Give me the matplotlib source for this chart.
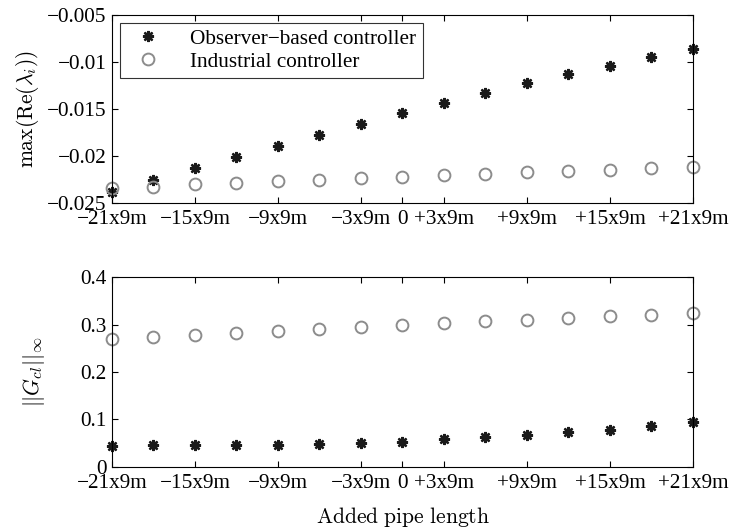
import matplotlib
matplotlib.use('Agg')
import matplotlib.pyplot as plt

# added pipe length in units of 9 m
x_vals = [-21, -18, -15, -12, -9, -6, -3, 0, 3, 6, 9, 12, 15, 18, 21]

# max(Re(lambda_i))
eig_observer = [-0.0238, -0.02255, -0.0213, -0.0201, -0.0189, -0.01773, -0.0166, -0.01546,
                -0.01439, -0.01333, -0.01227, -0.01131, -0.0104, -0.0095, -0.00862]
eig_industrial = [-0.02337, -0.02327, -0.02298, -0.02284, -0.0227, -0.02252, -0.02237, -0.0222,
                  -0.02202, -0.02188, -0.02173, -0.0216, -0.02146, -0.02131, -0.02114]

# ||G_cl||_inf
hinf_observer = [0.044, 0.045, 0.045, 0.046, 0.046, 0.047, 0.050, 0.053,
                 0.058, 0.062, 0.068, 0.0725, 0.0775, 0.085, 0.094]
hinf_industrial = [0.270, 0.274, 0.279, 0.283, 0.287, 0.291, 0.295, 0.2986,
                   0.303, 0.307, 0.3106, 0.314, 0.3176, 0.321, 0.3246]

xticks = [-21, -15, -9, -3, 0, 3, 9, 15, 21]
xticklabels = ['\u221221x9m', '\u221215x9m', '\u22129x9m', '\u22123x9m', '0',
               '+3x9m', '+9x9m', '+15x9m', '+21x9m']
yticks_top = [-0.025, -0.02, -0.015, -0.01, -0.005]
yticklabels_top = ['\u22120.025', '\u22120.02', '\u22120.015', '\u22120.01', '\u22120.005']
yticks_bot = [0, 0.1, 0.2, 0.3, 0.4]
yticklabels_bot = ['0', '0.1', '0.2', '0.3', '0.4']

plt.rcParams['font.family'] = ['Liberation Serif', 'DejaVu Serif']
plt.rcParams['mathtext.fontset'] = 'cm'
plt.rcParams['font.size'] = 15.3

star = (8, 2, 0)
grey = '#8c8c8c'

fig = plt.figure(figsize=(7.29, 5.28), dpi=100)
ax1 = fig.add_axes([0.1536, 0.6155, 0.797, 0.356])
ax2 = fig.add_axes([0.1536, 0.1161, 0.797, 0.3587])

ax1.plot(x_vals, eig_observer, linestyle='none', marker=star, markersize=8,
         markeredgewidth=1.7, color='#1a1a1a', clip_on=False,
         label='Observer\u2212based controller')
ax1.plot(x_vals, eig_industrial, linestyle='none', marker='o', markersize=8.5,
         markeredgewidth=1.4, markerfacecolor='none', markeredgecolor=grey,
         clip_on=False, label='Industrial controller')

ax2.plot(x_vals, hinf_observer, linestyle='none', marker=star, markersize=8,
         markeredgewidth=1.7, color='#1a1a1a', clip_on=False)
ax2.plot(x_vals, hinf_industrial, linestyle='none', marker='o', markersize=8.5,
         markeredgewidth=1.4, markerfacecolor='none', markeredgecolor=grey,
         clip_on=False)

ax1.set_ylim(-0.025, -0.005)
ax1.set_yticks(yticks_top)
ax1.set_yticklabels(yticklabels_top)
ax2.set_ylim(0, 0.4)
ax2.set_yticks(yticks_bot)
ax2.set_yticklabels(yticklabels_bot)

for ax in (ax1, ax2):
    ax.set_xlim(-21, 21)
    ax.set_xticks(xticks)
    ax.set_xticklabels(xticklabels)
    ax.tick_params(direction='in', top=True, right=True, length=4, width=0.8,
                   labelsize=15.3, pad=5)
    ax.tick_params(axis='y', pad=4)
    for s in ax.spines.values():
        s.set_linewidth(0.8)

ax1.set_ylabel(r'$\max(\mathrm{Re}(\lambda_i))$', fontsize=15.5, labelpad=4)
ax2.set_ylabel(r'$||G_{cl}||_\infty$', fontsize=15.5, labelpad=24)
ax2.set_xlabel(r'$\mathrm{Added\ pipe\ length}$', fontsize=15.5, labelpad=9)

leg = ax1.legend(loc='upper left', bbox_to_anchor=(0.014, 0.96), fontsize=15.3,
                 frameon=True, fancybox=False, edgecolor='black', borderpad=0.3,
                 handletextpad=1.0, labelspacing=0.15, borderaxespad=0,
                 handlelength=2.0)
leg.get_frame().set_linewidth(0.8)

fig.savefig('out.png', dpi=100)
